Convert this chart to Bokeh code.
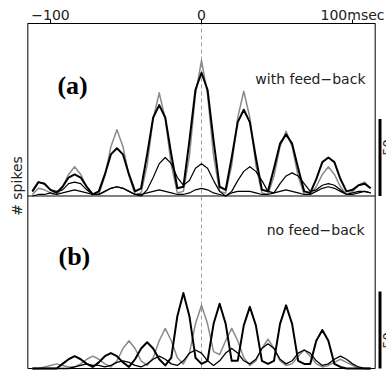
import math
from bokeh.plotting import figure
from bokeh.models import Range1d, FixedTicker
from bokeh.core.properties import value
from bokeh.embed import file_html
from bokeh.resources import INLINE

# bin centres (msec)
lag_ms = list(range(-112, 113, 4))

# ---- panel (a): with feed-back (spike counts per bin) ----
a_thick = [3, 9, 8, 4, 2, 6, 12, 14, 12, 6,
           1, 3, 14, 27, 31, 27, 14, 3, 5, 27,
           51, 59, 51, 27, 5, 6, 36, 69, 80, 69,
           36, 6, 4, 25, 48, 56, 48, 25, 4, 3,
           18, 34, 40, 34, 18, 3, 2, 11, 22, 25,
           22, 11, 3, 4, 7, 8, 5]
a_gray = [1, 5, 4, 2, 0, 6, 14, 19, 14, 6,
          1, 1, 13, 32, 43, 32, 13, 1, 2, 20,
          50, 67, 50, 20, 2, 3, 26, 66, 88, 66,
          26, 3, 2, 20, 51, 68, 51, 20, 2, 1,
          13, 32, 42, 32, 13, 1, 1, 6, 14, 19,
          14, 6, 1, 3, 7, 9, 5]
a_thin1 = [3, 9, 8, 4, 3, 4, 8, 9, 8, 4,
           1, 1, 3, 5, 6, 5, 3, 1, 0, 4,
           12, 21, 25, 21, 12, 7, 10, 18, 21, 18,
           10, 3, 0, 3, 10, 16, 19, 16, 10, 3,
           2, 8, 13, 15, 13, 8, 3, 4, 7, 8,
           7, 4, 1, 2, 3, 3, 2]
a_thin2 = [0, 1, 1, 2, 1, 2, 3, 4, 3, 2,
           1, 1, 3, 5, 6, 5, 3, 1, 1, 2,
           3, 4, 3, 2, 1, 1, 2, 4, 5, 4,
           2, 1, 0, 2, 3, 3, 3, 2, 1, 1,
           2, 3, 4, 3, 2, 1, 1, 3, 5, 6,
           5, 3, 1, 1, 2, 3, 2]

# ---- panel (b): no feed-back ----
b_thick = [0, 0, 0, 0, 0, 3, 6, 8, 6, 3,
           1, 4, 8, 10, 8, 4, 1, 6, 13, 17,
           13, 6, 2, 7, 34, 49, 34, 7, 3, 5,
           29, 42, 29, 5, 5, 28, 40, 28, 5, 3,
           5, 29, 41, 29, 5, 3, 3, 18, 25, 18,
           3, 1, 0, 0, 0, 0, 0]
b_gray = [0, 0, 1, 2, 3, 2, 1, 1, 3, 6,
          8, 6, 3, 1, 5, 13, 18, 13, 5, 2,
          7, 18, 26, 18, 7, 3, 10, 29, 41, 29,
          11, 9, 18, 26, 18, 7, 2, 5, 13, 19,
          13, 5, 2, 3, 8, 12, 8, 3, 1, 2,
          4, 6, 4, 2, 0, 0, 0]
b_thin1 = [0, 0, 0, 0, 0, 0, 0, 1, 2, 3,
           2, 2, 1, 2, 4, 5, 4, 2, 1, 3,
           6, 8, 6, 3, 2, 5, 10, 12, 10, 5,
           2, 5, 10, 13, 10, 5, 3, 6, 13, 16,
           13, 6, 3, 5, 10, 12, 10, 5, 2, 3,
           6, 8, 6, 3, 1, 0, 0]

tick_ms = [-100, 0, 100]
tick_labels = ["\u2212100", "0", "100msec"]
scale_bar = 50          # spikes
panel_height = 112      # spikes per panel (vertical extent)

BOX_L, BOX_R = -115, 115
TOP = 2 * panel_height
OFF = panel_height
BLACK = "#000000"
GRAY = "#8a8a8a"
SANS = value("DejaVu Sans")

p = figure(width=386, height=371, output_backend="svg", toolbar_location=None,
           x_range=Range1d(-133.1, 122.5), y_range=Range1d(-1.95, TOP),
           x_axis_location="above", y_axis_location=None,
           min_border_left=0, min_border_right=0, min_border_top=23,
           min_border_bottom=0)
p.outline_line_color = None
p.xgrid.grid_line_color = None
p.ygrid.grid_line_color = None
p.background_fill_color = "white"
p.border_fill_color = "white"

ax = p.xaxis[0]
ax.ticker = FixedTicker(ticks=tick_ms)
ax.major_label_overrides = {t: s for t, s in zip(tick_ms, tick_labels)}
ax.bounds = (BOX_L, BOX_R)
ax.minor_tick_line_color = None
ax.major_tick_in = 0
ax.major_tick_out = 4
ax.major_label_standoff = -3
ax.major_label_text_font = "DejaVu Sans"
ax.major_label_text_font_size = "14px"
ax.major_label_text_color = "#222222"
ax.axis_line_color = BLACK
ax.major_tick_line_color = BLACK

# frame of both panels
p.segment(x0=[BOX_L, BOX_R, BOX_L, BOX_L], y0=[0, 0, 0, OFF],
          x1=[BOX_L, BOX_R, BOX_R, BOX_R], y1=[TOP, TOP, 0, OFF],
          line_color=BLACK, line_width=1)
# zero-lag dashed line
p.segment(x0=[0], y0=[0], x1=[0], y1=[TOP], line_color="#a0a0a0",
          line_width=1, line_dash="4 3")

def up(vals, off):
    return [v + off for v in vals]

# panel (a)
p.line(lag_ms, up(a_gray, OFF), line_color=GRAY, line_width=1.5, line_join="round")
p.line(lag_ms, up(a_thin2, OFF), line_color=BLACK, line_width=1.2, line_join="round")
p.line(lag_ms, up(a_thin1, OFF), line_color=BLACK, line_width=1.2, line_join="round")
p.line(lag_ms, up(a_thick, OFF), line_color=BLACK, line_width=2, line_join="round")
# panel (b)
p.line(lag_ms, b_gray, line_color=GRAY, line_width=1.5, line_join="round")
p.line(lag_ms, b_thin1, line_color=BLACK, line_width=1.3, line_join="round")
p.line(lag_ms, b_thick, line_color=BLACK, line_width=2, line_join="round")

# scale bars
p.segment(x0=[118.2, 118.2], y0=[OFF, 0], x1=[118.2, 118.2],
          y1=[OFF + scale_bar, scale_bar], line_color=BLACK, line_width=3)
p.text(x=[120.5, 120.5], y=[OFF + 31.5, 18.2], text=[str(scale_bar)] * 2,
       angle=math.pi / 2, text_align="center", text_baseline="top",
       text_font=SANS, text_font_size="13px", text_color="#222222")

# texts
p.text(x=[108.6], y=[188], text=["with feed\u2212back"], text_align="right",
       text_baseline="alphabetic", text_font=SANS, text_font_size="14px",
       text_color="#222222")
p.text(x=[108], y=[90], text=["no feed\u2212back"], text_align="right",
       text_baseline="alphabetic", text_font=SANS, text_font_size="14px",
       text_color="#222222")
p.text(x=[-95.4, -94.7], y=[184, 72.5], text=["(a)", "(b)"], text_align="left",
       text_baseline="alphabetic", text_font=value("Liberation Serif"),
       text_font_style="bold", text_font_size="26px", text_color=BLACK)
p.text(x=[-121.9], y=[118.5], text=["# spikes"], angle=math.pi / 2,
       text_align="center", text_baseline="middle", text_font=SANS,
       text_font_size="14px", text_color="#222222")

open("out.html", "w").write(file_html(p, INLINE))
